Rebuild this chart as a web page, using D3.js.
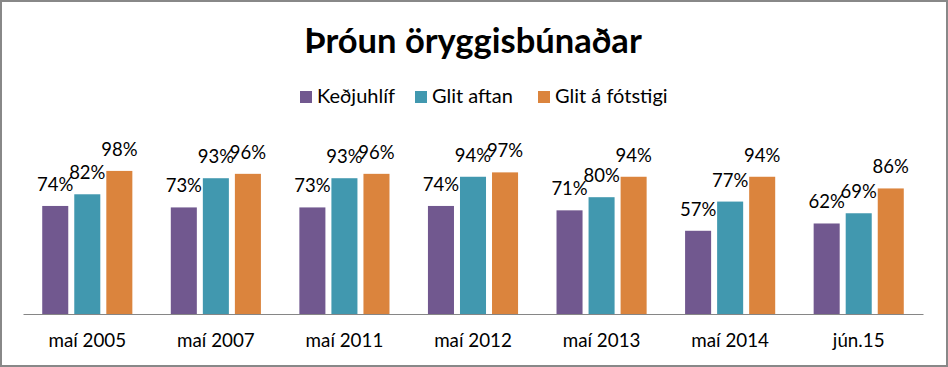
<!DOCTYPE html>
<html><head><meta charset="utf-8">
<script src="https://cdn.jsdelivr.net/npm/d3@7"></script>
<style>body{margin:0;background:#fff;}svg{display:block;font-family:Lato,"Open Sans",sans-serif;}</style>
</head><body>
<svg id="c" width="948" height="367"></svg>
<script>
const title = "Þróun öryggisbúnaðar";
const categories = ["maí 2005","maí 2007","maí 2011","maí 2012","maí 2013","maí 2014","jún.15"];
const seriesNames = ["Keðjuhlíf","Glit aftan","Glit á fótstigi"];
const colors = ["#71588F","#4198AF","#DB843D"];
const kedjuhlif = [0.74,0.73,0.73,0.74,0.71,0.57,0.62];
const glitAftan = [0.82,0.93,0.93,0.94,0.80,0.77,0.69];
const glitFotstigi = [0.98,0.96,0.96,0.97,0.94,0.94,0.86];
const series = [kedjuhlif, glitAftan, glitFotstigi];

const svg = d3.select("#c");
const W = 948, H = 367;
svg.append("rect").attr("x",1).attr("y",1).attr("width",W-2).attr("height",H-2)
  .attr("fill","#fff").attr("stroke","#888").attr("stroke-width",2);

const x0 = d3.scaleBand().domain(categories).range([23,923]);
const x1 = d3.scaleBand().domain(d3.range(3)).range([0,x0.bandwidth()])
  .paddingInner(0.1875).paddingOuter(0.6);
const y = d3.scaleLinear().domain([0,1]).range([314,168]);

const g = svg.append("g");
categories.forEach((c,i)=>{
  series.forEach((s,j)=>{
    const bx = x0(c)+x1(j);
    g.append("rect").attr("x",bx).attr("y",y(s[i])).attr("width",x1.bandwidth())
      .attr("height",y(0)-y(s[i])).attr("fill",colors[j]);
    g.append("text").attr("x",bx+x1.bandwidth()/2).attr("y",y(s[i])-15)
      .attr("text-anchor","middle").attr("font-size",18.5).attr("fill","#000")
      .text(d3.format(".0%")(s[i]));
  });
});

const xAxis = svg.append("g").attr("transform","translate(0,314)")
  .call(d3.axisBottom(x0).tickSize(0).tickPadding(0));
xAxis.select(".domain").attr("stroke","#868686").attr("stroke-width",1);
xAxis.selectAll("text").attr("font-size",18.8).attr("fill","#000")
  .attr("font-family","Lato,'Open Sans',sans-serif").attr("dy",null).attr("y",32.5);

svg.append("text").attr("x",473).attr("y",53).attr("text-anchor","middle")
  .attr("font-size",34.5).attr("font-weight","bold").attr("fill","#000").text(title);

const legX = [300,415,538];
seriesNames.forEach((n,j)=>{
  svg.append("rect").attr("x",legX[j]).attr("y",91).attr("width",12).attr("height",12).attr("fill",colors[j]);
  svg.append("text").attr("x",legX[j]+17).attr("y",103).attr("font-size",20).attr("fill","#000").text(n);
});
</script>
</body></html>
